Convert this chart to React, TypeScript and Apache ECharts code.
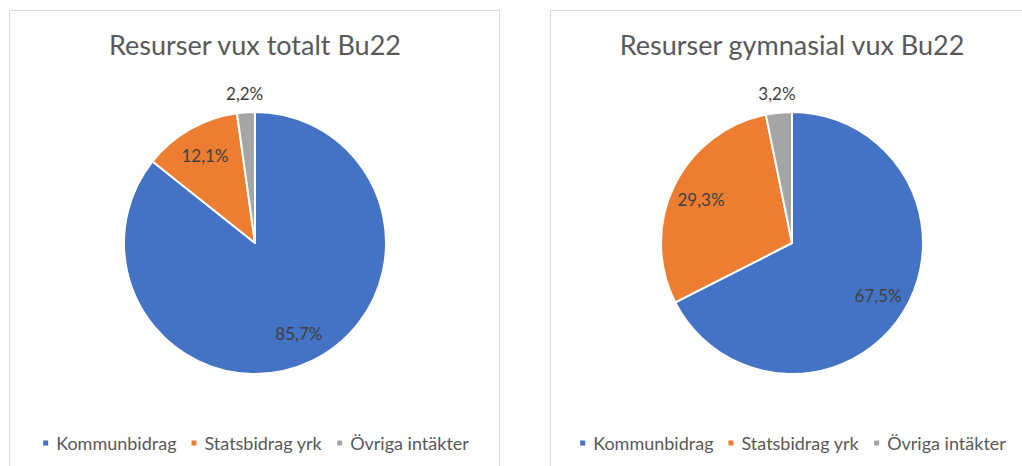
import React, { useEffect, useRef } from "react";
import * as echarts from "echarts";

const categories = ["Kommunbidrag", "Statsbidrag yrk", "Övriga intäkter"];
const sliceColors = ["#4472C4", "#ED7D31", "#A5A5A5"];
const totalValues = [85.7, 12.1, 2.2];
const gymnasialValues = [67.5, 29.3, 3.2];
const titleTotal = "Resurser vux totalt Bu22";
const titleGymnasial = "Resurser gymnasial vux Bu22";
const outsideLabelIndex = 2;

const FONT = "Lato, 'Open Sans', sans-serif";

function fmt(v: number): string {
  return v.toFixed(1).replace(".", ",") + "%";
}

function buildOption(title: string, values: number[], cx: number, border: any) {
  const R = 131;
  const center = [cx, 243];
  const data = categories.map((name, i) => ({ name, value: values[i] }));
  const labelStyle = {
    fontFamily: FONT,
    fontSize: 17,
    color: "#404040",
    formatter: (p: any) => fmt(p.value),
  };
  return {
    animation: false,
    color: sliceColors,
    title: {
      text: title,
      left: "center",
      top: 26,
      textStyle: { fontFamily: FONT, fontSize: 27, fontWeight: "normal", color: "#595959" },
    },
    legend: {
      data: categories,
      left: "center",
      top: 429,
      icon: "rect",
      itemWidth: 7,
      itemHeight: 7,
      itemGap: 13,
      selectedMode: false,
      textStyle: { fontFamily: FONT, fontSize: 18, color: "#595959", padding: [0, 0, 0, 2] },
    },
    graphic: [
      {
        type: "rect",
        silent: true,
        shape: border,
        style: { fill: "none", stroke: "#D9D9D9", lineWidth: 1 },
      },
    ],
    series: [
      {
        type: "pie",
        radius: R,
        center,
        startAngle: 90,
        clockwise: true,
        silent: true,
        data,
        label: { show: false },
        labelLine: { show: false },
        itemStyle: { borderColor: "#ffffff", borderWidth: 2 },
      },
      {
        type: "pie",
        radius: [0, 196],
        center,
        startAngle: 90,
        clockwise: true,
        silent: true,
        legendHoverLink: false,
        avoidLabelOverlap: false,
        data: data.map((d, i) => ({ ...d, label: { show: i !== outsideLabelIndex } })),
        itemStyle: { color: "rgba(0,0,0,0)", borderWidth: 0 },
        label: { show: true, position: "inside", ...labelStyle },
        labelLine: { show: false },
      },
      {
        type: "pie",
        radius: [R, 163],
        center,
        startAngle: 90,
        clockwise: true,
        silent: true,
        legendHoverLink: false,
        avoidLabelOverlap: false,
        data: data.map((d, i) => ({ ...d, label: { show: i === outsideLabelIndex } })),
        itemStyle: { color: "rgba(0,0,0,0)", borderWidth: 0 },
        label: { show: true, position: "inside", ...labelStyle },
        labelLine: { show: false },
      },
    ],
  };
}

function PieChart({ option, style }: { option: any; style: React.CSSProperties }) {
  const ref = useRef<HTMLDivElement>(null);
  useEffect(() => {
    if (!ref.current) return;
    const chart = echarts.init(ref.current, undefined, { renderer: "svg" });
    chart.setOption(option);
    return () => chart.dispose();
  }, [option]);
  return <div ref={ref} style={style} />;
}

const leftOption = buildOption(titleTotal, totalValues, 255, { x: 9.5, y: 10.5, width: 490, height: 600 });
const rightOption = buildOption(titleGymnasial, gymnasialValues, 242, { x: 0.5, y: 10.5, width: 600, height: 600 });

export default function App() {
  return (
    <div
      style={{
        position: "absolute",
        left: 0,
        top: 0,
        width: 1022,
        height: 466,
        overflow: "hidden",
        background: "#ffffff",
      }}
    >
      <PieChart option={leftOption} style={{ position: "absolute", left: 0, top: 0, width: 510, height: 466 }} />
      <PieChart option={rightOption} style={{ position: "absolute", left: 550, top: 0, width: 484, height: 466 }} />
    </div>
  );
}
